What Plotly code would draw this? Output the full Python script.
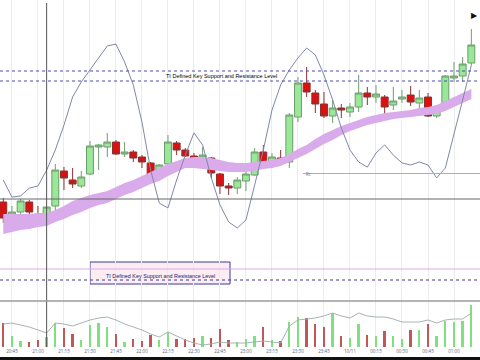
import pandas as pd
import plotly.graph_objects as go

# ---------------- data ----------------
times = pd.date_range("2010-10-10 20:40", periods=55, freq="5min")

open_ = [1.3798,1.3782,1.3788,1.3798,1.3785,1.3782,1.3794,1.3829,1.3820,1.3814,
         1.3826,1.3853,1.3853,1.3858,1.3846,1.3848,1.3843,1.3837,1.3827,1.3836,
         1.3857,1.3850,1.3844,1.3843,1.3842,1.3826,1.3814,1.3812,1.3819,1.3825,
         1.3848,1.3838,1.3842,1.3838,1.3883,1.3917,1.3907,1.3896,1.3884,1.3892,
         1.3888,1.3893,1.3907,1.3903,1.3903,1.3895,1.3901,1.3905,1.3897,1.3903,
         1.3884,1.3893,1.3922,1.3924,1.3937]
high_ = [1.3802,1.3794,1.3801,1.3800,1.3794,1.3794,1.3836,1.3833,1.3832,1.3829,
         1.3859,1.3856,1.3867,1.3860,1.3858,1.3850,1.3845,1.3838,1.3836,1.3865,
         1.3859,1.3852,1.3847,1.3853,1.3843,1.3827,1.3817,1.3823,1.3828,1.3852,
         1.3855,1.3847,1.3850,1.3887,1.3923,1.3933,1.3910,1.3908,1.3900,1.3896,
         1.3897,1.3925,1.3913,1.3915,1.3905,1.3913,1.3910,1.3914,1.3910,1.3907,
         1.3895,1.3925,1.3938,1.3943,1.3971]
low_ = [1.3777,1.3780,1.3786,1.3783,1.3779,1.3781,1.3790,1.3810,1.3812,1.3812,
        1.3825,1.3830,1.3843,1.3845,1.3843,1.3838,1.3832,1.3823,1.3825,1.3835,
        1.3845,1.3843,1.3840,1.3837,1.3822,1.3806,1.3805,1.3806,1.3809,1.3824,
        1.3833,1.3832,1.3837,1.3832,1.3878,1.3903,1.3887,1.3882,1.3877,1.3882,
        1.3883,1.3888,1.3895,1.3897,1.3882,1.3890,1.3897,1.3894,1.3885,1.3883,
        1.3882,1.3890,1.3918,1.3918,1.3935]
close_ = [1.3782,1.3788,1.3799,1.3788,1.3780,1.3793,1.3830,1.3822,1.3816,1.3823,
          1.3854,1.3855,1.3858,1.3846,1.3848,1.3842,1.3838,1.3825,1.3835,1.3858,
          1.3850,1.3844,1.3841,1.3845,1.3827,1.3814,1.3812,1.3820,1.3826,1.3848,
          1.3837,1.3843,1.3838,1.3885,1.3917,1.3908,1.3896,1.3884,1.3892,1.3890,
          1.3893,1.3907,1.3903,1.3906,1.3893,1.3899,1.3903,1.3898,1.3902,1.3884,
          1.3892,1.3924,1.3924,1.3936,1.3955]

ma_upper = [1.3786,1.3786,1.3786,1.3786,1.3787,1.3787,1.3790,1.3794,1.3799,1.3802,
            1.3805,1.3807,1.3809,1.3813,1.3817,1.3820,1.3824,1.3828,1.3832,1.3836,
            1.3839,1.3842,1.3843,1.3843,1.3842,1.3840,1.3838,1.3837,1.3837,1.3838,
            1.3839,1.3840,1.3842,1.3846,1.3851,1.3855,1.3861,1.3866,1.3870,1.3874,
            1.3877,1.3880,1.3883,1.3885,1.3887,1.3888,1.3889,1.3890,1.3892,1.3893,
            1.3895,1.3899,1.3903,1.3907,1.3911]
ma_lower = [1.3766,1.3768,1.3770,1.3771,1.3773,1.3774,1.3778,1.3781,1.3785,1.3788,
            1.3792,1.3795,1.3797,1.3801,1.3805,1.3808,1.3812,1.3816,1.3819,1.3824,
            1.3828,1.3832,1.3832,1.3831,1.3830,1.3829,1.3828,1.3828,1.3828,1.3829,
            1.3831,1.3832,1.3834,1.3838,1.3842,1.3846,1.3851,1.3856,1.3860,1.3865,
            1.3869,1.3872,1.3875,1.3877,1.3879,1.3881,1.3882,1.3883,1.3884,1.3885,
            1.3886,1.3889,1.3893,1.3897,1.3901]

oscillator = [40.0,34.3,34.7,37.3,38.0,43.3,50.0,58.3,67.7,72.7,
              76.7,80.7,84.7,85.3,79.3,71.7,59.3,43.3,32.3,30.7,
              40.0,48.3,55.7,51.7,40.7,31.7,26.0,24.0,26.7,38.3,
              50.0,63.3,71.7,76.7,80.7,84.0,81.7,75.0,66.7,57.3,
              50.0,46.0,44.3,49.0,51.7,48.3,45.7,45.0,46.0,45.0,
              40.7,44.0,55.0,66.7,78.3]

volume = [240,110,60,50,70,100,240,190,130,70,
          220,240,200,130,50,80,60,120,70,150,
          80,80,90,110,90,180,70,50,80,110,
          200,70,60,250,300,290,230,200,340,110,
          90,230,120,110,160,110,80,170,170,230,
          110,260,250,260,420]
volume_ma = [230,240,220,200,170,140,240,230,210,240,
             270,290,300,270,230,200,170,130,100,150,
             110,70,40,20,30,50,40,40,40,50,
             60,50,40,210,270,280,290,310,340,310,
             290,340,310,300,300,280,250,250,250,270,
             240,270,280,280,340]

key_levels = [1.3929, 1.3919]
lower_levels = [1.3731, 1.3720]
rc_level = 1.38265
crosshair_price = 1.3801
crosshair_index = 5
label_text = "TI Defined Key Support and Resistance Level"

tick_times = pd.date_range("2010-10-10 20:45", "2010-10-11 01:15", freq="15min")
tick_text = ["10/11" if (t.hour == 0 and t.minute == 0) else t.strftime("%H:%M") for t in tick_times]

# ---------------- figure ----------------
t0 = times[0]
x_range = [t0 - pd.Timedelta(seconds=114), t0 + pd.Timedelta(minutes=275)]

GREEN_BAR = "#7fe07f"
RED_BAR = "#c05858"
vol_colors = [GREEN_BAR if c >= o else RED_BAR for o, c in zip(open_, close_)]

fig = go.Figure()

fig.add_trace(go.Scatter(x=times, y=ma_upper, mode="lines", line=dict(width=0, color="#d4a3e6"),
                         showlegend=False, hoverinfo="skip", xaxis="x", yaxis="y"))
fig.add_trace(go.Scatter(x=times, y=ma_lower, mode="lines", line=dict(width=0, color="#d4a3e6"),
                         fill="tonexty", fillcolor="#d9abea", showlegend=False, hoverinfo="skip",
                         xaxis="x", yaxis="y"))

fig.add_trace(go.Candlestick(
    x=times, open=open_, high=high_, low=low_, close=close_,
    increasing=dict(fillcolor="#98e898", line=dict(color="#6f9c6f", width=1)),
    decreasing=dict(fillcolor="#dd1010", line=dict(color="#8a3030", width=1)),
    whiskerwidth=0, showlegend=False, xaxis="x", yaxis="y"))

fig.add_trace(go.Scatter(x=times, y=oscillator, mode="lines",
                         line=dict(width=1, color="#8088a8"),
                         showlegend=False, xaxis="x", yaxis="y3"))

fig.add_trace(go.Bar(x=times, y=volume, marker=dict(color=vol_colors, line=dict(width=0)),
                     width=60000, showlegend=False, xaxis="x2", yaxis="y2"))
fig.add_trace(go.Scatter(x=times, y=volume_ma, mode="lines",
                         line=dict(width=1, color="#a8b2b2"),
                         showlegend=False, xaxis="x2", yaxis="y2"))

main_dom = [1 - 301 / 360, 1]
vol_dom = [1 - 347 / 360, 1 - 301 / 360]

shapes = []
for lv in key_levels:
    shapes.append(dict(type="line", xref="paper", x0=0, x1=1, yref="y", y0=lv, y1=lv,
                       line=dict(color="#4a4ab0", width=1, dash="dot")))
shapes.append(dict(type="rect", xref="x", yref="y",
                   x0=t0 + pd.Timedelta(minutes=50), x1=t0 + pd.Timedelta(seconds=130.8 * 60),
                   y0=1.3716, y1=1.3738, fillcolor="#fcedf3",
                   line=dict(color="#3a3a9a", width=1), layer="below"))
shapes.append(dict(type="line", xref="paper", x0=0, x1=1, yref="y",
                   y0=lower_levels[0], y1=lower_levels[0], line=dict(color="#e3a8e3", width=1)))
shapes.append(dict(type="line", xref="paper", x0=0, x1=1, yref="y",
                   y0=lower_levels[1], y1=lower_levels[1], line=dict(color="#3a3a9a", width=1, dash="dot")))
shapes.append(dict(type="line", xref="x", x0=t0 + pd.Timedelta(seconds=172.9 * 60), x1=x_range[1],
                   yref="y", y0=rc_level, y1=rc_level, line=dict(color="#a4aae0", width=1)))
shapes.append(dict(type="line", xref="paper", x0=0, x1=1, yref="y",
                   y0=crosshair_price, y1=crosshair_price, line=dict(color="#666666", width=1)))
shapes.append(dict(type="line", xref="x", x0=times[crosshair_index], x1=times[crosshair_index],
                   yref="paper", y0=1 - 347 / 360, y1=1 - 3 / 360, line=dict(color="#555555", width=1)))
shapes.append(dict(type="line", xref="paper", x0=0, x1=1, yref="paper",
                   y0=1 - 301 / 360, y1=1 - 301 / 360, line=dict(color="#9a9a9a", width=1.5)))
shapes.append(dict(type="rect", xref="paper", x0=0, x1=1, yref="paper", y0=0, y1=3 / 360,
                   fillcolor="#111111", line=dict(width=0)))

annotations = [
    dict(text=label_text, xref="x", yref="y",
         x=t0 + pd.Timedelta(seconds=125.6 * 60), y=sum(key_levels) / 2,
         showarrow=False, font=dict(size=5.5, color="#000000", family="Liberation Sans")),
    dict(text=label_text, xref="x", yref="y",
         x=t0 + pd.Timedelta(seconds=90.4 * 60), y=1.3724,
         showarrow=False, font=dict(size=5.4, color="#222266", family="Liberation Sans")),
    dict(text="Rc", xref="x", yref="y", x=t0 + pd.Timedelta(seconds=173.5 * 60), y=rc_level,
         xanchor="left", showarrow=False, font=dict(size=4.5, color="#6a70b0")),
    dict(text="▶", xref="paper", yref="paper", x=1.0, y=1 - 7 / 360, xanchor="right",
         showarrow=False, font=dict(size=8, color="#111111")),
]

fig.update_layout(
    width=480, height=360,
    margin=dict(l=0, r=0, t=0, b=0),
    paper_bgcolor="white", plot_bgcolor="white",
    showlegend=False,
    boxgap=0.2, boxgroupgap=0,
    xaxis=dict(domain=[0, 1], range=x_range, type="date", rangeslider=dict(visible=False),
               tickvals=list(tick_times), showticklabels=False, showgrid=True,
               gridcolor="#ececec", gridwidth=1, zeroline=False, anchor="y", fixedrange=True),
    yaxis=dict(domain=main_dom, range=[1.3699, 1.4000], showticklabels=False,
               showgrid=False, zeroline=False, anchor="x"),
    yaxis3=dict(overlaying="y", range=[-0.333, 100], visible=False, anchor="x"),
    xaxis2=dict(domain=[0, 1], range=x_range, type="date", matches="x", anchor="y2",
                tickvals=list(tick_times), ticktext=tick_text, showgrid=True,
                gridcolor="#ececec", tickfont=dict(size=4.5, color="#666666"),
                ticks="", automargin=False, zeroline=False),
    yaxis2=dict(domain=vol_dom, range=[0, 460], showticklabels=False, showgrid=False,
                zeroline=False, anchor="x2"),
    shapes=shapes,
    annotations=annotations,
    bargap=0,
)

fig.write_html("out.html")
